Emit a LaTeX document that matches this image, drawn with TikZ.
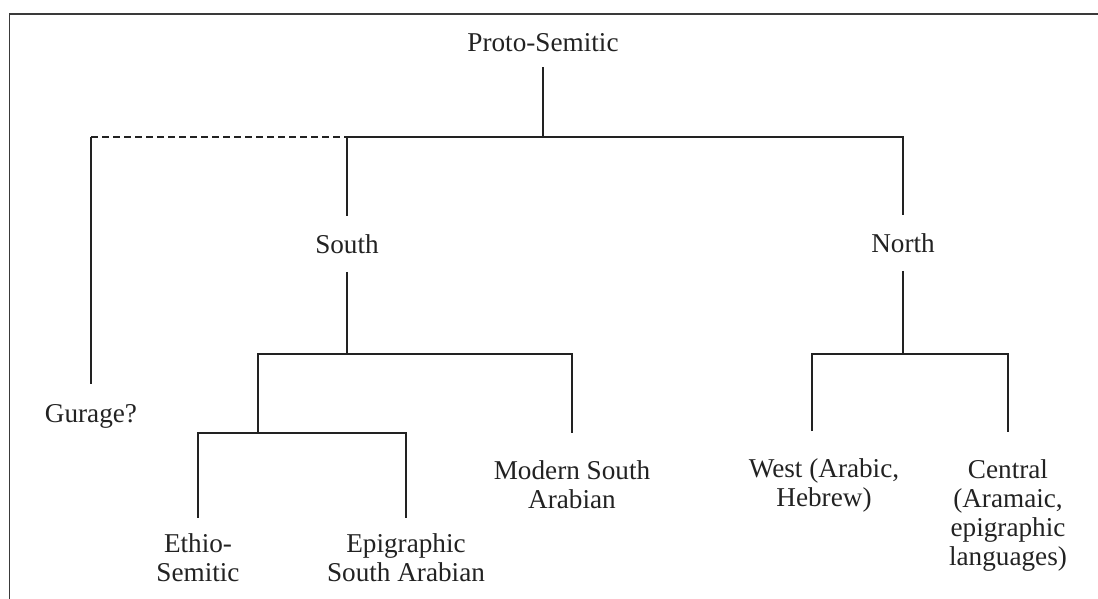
\documentclass[tikz,border=0pt]{standalone}
\usepackage{fontspec}
\setmainfont{Liberation Serif}
\definecolor{treeInk}{HTML}{222222}
\definecolor{treeFrame}{HTML}{3A3A3A}
\tikzset{
  tree diagram/.style={
    draw=treeInk, line width=1.3pt,
    every node/.style={font=\fontsize{13.6}{14.5}\selectfont,
      text=treeInk, inner sep=0pt, align=center}
  },
  tree frame/.style={draw=treeFrame, line width=0.85pt},
  tree guess/.style={dash pattern=on 3.5pt off 2pt},
  lang top/.style={outer ysep=7.5pt},
  lang mid/.style={outer ysep=9.3pt},
  lang low/.style={outer ysep=7.8pt},
  lang leaf/.style={outer ysep=13.5pt}
}
\begin{document}
\begin{tikzpicture}[tree diagram,x=0.5pt,y=-0.5pt]
    \useasboundingbox (0,0) rectangle (1098,599);
    \draw[tree frame] (9.5,599) -- (9.5,14) -- (1098,14);
    % languages (base = baseline of the last line)
    \node[lang top,anchor=base] (proto) at (543,52) {Proto-Semitic};
    \node[lang mid,anchor=base] (south) at (347,253) {South};
    \node[lang mid,anchor=base] (north) at (903,252) {North};
    \node[outer ysep=10pt,anchor=base] (gurage) at (91,422) {Gurage?};
    \node[lang low,anchor=base] (ethio) at (198,581) {Ethio-\\Semitic};
    \node[lang low,anchor=base] (epi) at (406,581) {Epigraphic\\South Arabian};
    \node[lang leaf,anchor=base] (modern) at (572,508) {Modern South\\Arabian};
    \node[lang leaf,anchor=base] (west) at (824,506) {West (Arabic,\\Hebrew)};
    \node[lang leaf,anchor=base] (central) at (1008,565) {Central\\(Aramaic,\\epigraphic\\languages)};
    % branch points
    \coordinate (jtop) at (543,137);
    \coordinate (js) at (347,354);
    \coordinate (jes) at (258,433);
    \coordinate (jn) at (903,354);
    \coordinate (jg) at (gurage |- jtop);
    % connectors
    \draw (proto) -- (jtop);
    \draw (south) |- (jtop) -| (north);
    \draw (gurage) -- (jg);
    \draw[tree guess] (jg) -- (south |- jtop);
    \draw (south) -- (js);
    \draw (jes) |- (js) -| (modern);
    \draw (ethio) |- (jes) -| (epi);
    \draw (north) -- (jn);
    \draw ([xshift=-6pt]west.north) |- (jn) -| (central);
  \end{tikzpicture}
\end{document}
